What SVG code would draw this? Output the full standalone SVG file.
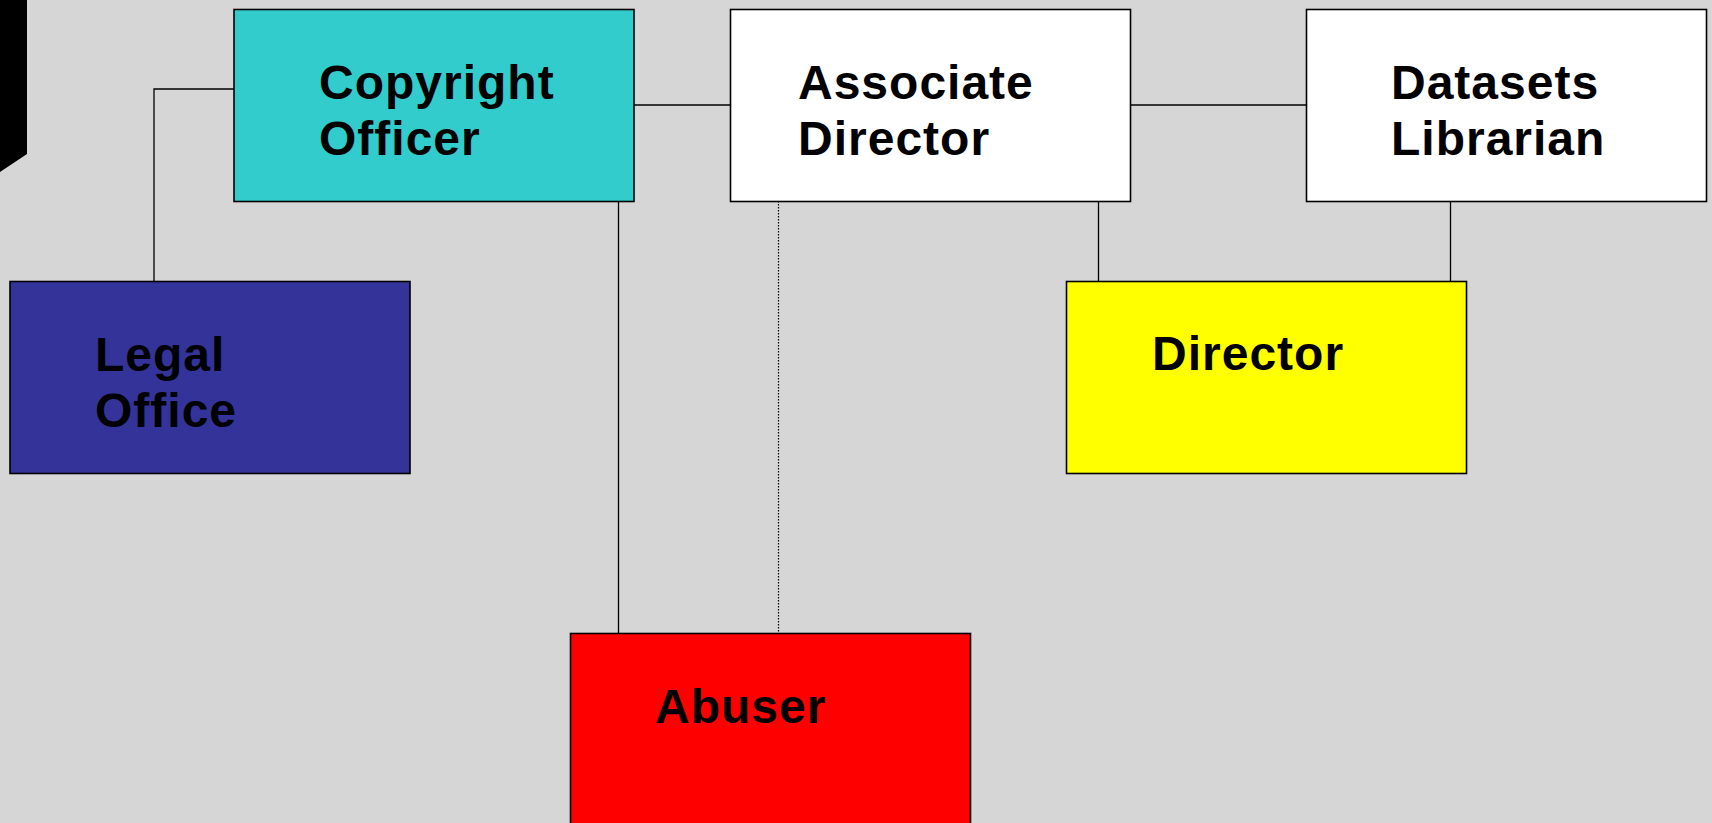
<svg xmlns="http://www.w3.org/2000/svg" width="1712" height="823" viewBox="0 0 1712 823">
<style>
.box{stroke:#000;stroke-width:1.6}
.lbl{font-family:"Liberation Sans",Arial,sans-serif;font-weight:bold;font-size:48px;letter-spacing:1px;fill:#000}
.con{stroke:#000;stroke-width:1.3;fill:none}
.dot{stroke:#000;stroke-width:1.2;fill:none;stroke-dasharray:1.5 1.5}
</style>
<rect x="0" y="0" width="1712" height="823" fill="#D6D6D6"/>
<polygon points="0,0 27,0 27,154 0,172" fill="#000"/>
<g id="connectors">
<polyline class="con" points="234,89 154,89 154,281"/>
<line class="con" x1="634" y1="105" x2="730" y2="105"/>
<line class="con" x1="1131" y1="105" x2="1306" y2="105"/>
<line class="con" x1="618.5" y1="201" x2="618.5" y2="633"/>
<line class="dot" x1="778.5" y1="201" x2="778.5" y2="633"/>
<line class="con" x1="1098.5" y1="201" x2="1098.5" y2="281"/>
<line class="con" x1="1450.5" y1="201" x2="1450.5" y2="281"/>
</g>
<g id="copyright-officer">
<rect class="box" x="234" y="9.5" width="400" height="192" fill="#33CCCC"/>
<text class="lbl" x="319" y="99">Copyright</text>
<text class="lbl" x="319" y="155">Officer</text>
</g>
<g id="associate-director">
<rect class="box" x="730.5" y="9.5" width="400" height="192" fill="#FFFFFF"/>
<text class="lbl" x="798" y="99">Associate</text>
<text class="lbl" x="798" y="155">Director</text>
</g>
<g id="datasets-librarian">
<rect class="box" x="1306.5" y="9.5" width="400" height="192" fill="#FFFFFF"/>
<text class="lbl" x="1391" y="99">Datasets</text>
<text class="lbl" x="1391" y="155">Librarian</text>
</g>
<g id="legal-office">
<rect class="box" x="10" y="281.5" width="400" height="192" fill="#333399"/>
<text class="lbl" x="95" y="371">Legal</text>
<text class="lbl" x="95" y="427">Office</text>
</g>
<g id="director">
<rect class="box" x="1066.5" y="281.5" width="400" height="192" fill="#FFFF00"/>
<text class="lbl" x="1152" y="370">Director</text>
</g>
<g id="abuser">
<rect class="box" x="570.5" y="633.5" width="400" height="200" fill="#FF0000"/>
<text class="lbl" x="655" y="723">Abuser</text>
</g>
</svg>
